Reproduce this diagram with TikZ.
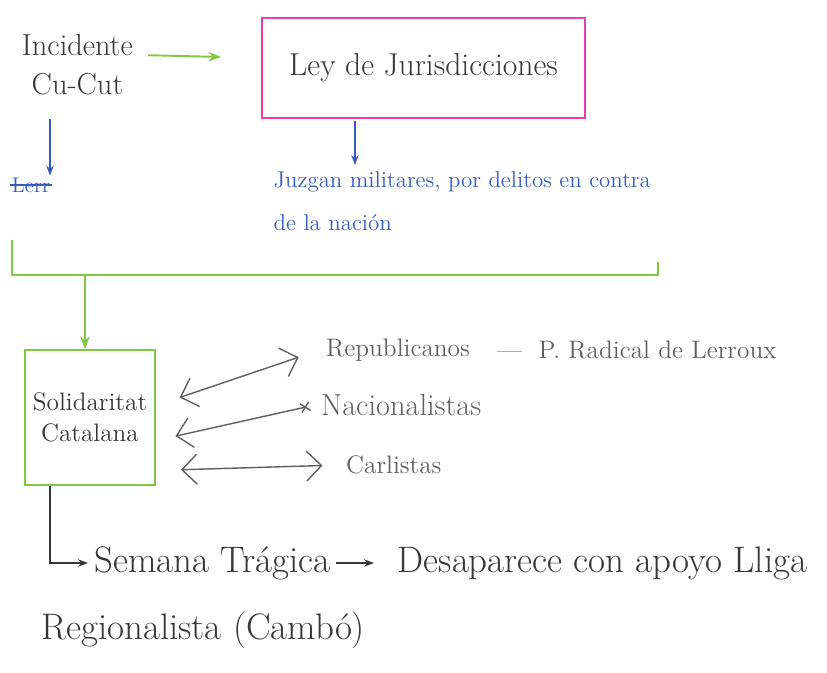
\documentclass[tikz,border=0pt]{standalone}
\usepackage{tikz}
\usetikzlibrary{arrows.meta, positioning}
\definecolor{hgreen}{RGB}{128,200,64}
\definecolor{hpink}{RGB}{228,64,180}
\definecolor{hblue}{RGB}{52,92,190}
\definecolor{hgray}{RGB}{95,95,95}
\definecolor{hink}{RGB}{55,55,55}

\begin{document}
\begin{tikzpicture}[
  node distance=0.5cm and 0.8cm,
  pinkbox/.style={rectangle, draw=hpink, line width=1.1pt, minimum width=6.46cm, minimum height=2cm, font=\fontsize{18}{22}\selectfont, text=hink},
  greenbox/.style={rectangle, draw=hgreen, line width=1.1pt, minimum width=2.6cm, minimum height=2.7cm, align=center, font=\Large, text=hink},
  inktext/.style={text=hink, font=\LARGE},
  graytext/.style={text=hgray, font=\Large},
  bluetext/.style={text=hblue, font=\fontsize{13}{25}\selectfont, align=left},
  bigtext/.style={text=hink, font=\fontsize{21}{25}\selectfont},
  greenarrow/.style={-{Stealth[length=2.5mm]}, hgreen, line width=1.1pt},
  bluearrow/.style={-{Stealth[length=2mm]}, hblue, thick},
  grayarrow/.style={hgray, thick},
  barb/.style={{Straight Barb[length=3mm]}-{Straight Barb[length=3mm]}},
  inkarrow/.style={-{Stealth[length=2mm]}, hink, thick}
]
  \useasboundingbox (0,0) rectangle (16.54,13.46);

  % top row
  \node[inktext, align=center] (inc) at (1.55,12.16) {Incidente\\Cu-Cut};
  \node[pinkbox] (ley) at (8.47,12.1) {Ley de Jurisdicciones};
  \draw[greenarrow, shorten <=0.18cm, shorten >=0.8cm] ([yshift=0.2cm]inc.east) -- ([yshift=0.2cm]ley.west);

  \node[bluetext, anchor=north west] (jur) at (5.35,10.16) {Juzgan militares, por delitos en contra\\ de la nación};
  \coordinate (leyfoot) at ([xshift=-1.37cm]ley.south);
  \draw[bluearrow, shorten <=0.05cm] (leyfoot) -- (leyfoot |- jur.north);

  \node[text=hblue, font=\large, inner sep=1pt] (tachado) at (0.62,9.76) {Lerr};
  \draw[hblue, thick] (tachado.west) -- (tachado.east);
  \coordinate (incfoot) at ([xshift=-0.55cm]inc.south);
  \draw[bluearrow, shorten <=0.35cm] (incfoot) -- (incfoot |- tachado.north);

  % bracket
  \coordinate (brl) at (0.24,8.66);
  \coordinate (brb) at (1.7,7.96);
  \coordinate (brr) at (13.16,8.22);
  \draw[hgreen, line width=1.1pt] (brl) |- (brb) -| (brr);

  \node[greenbox] (sol) at (1.8,5.11) {Solidaritat\\Catalana};
  \draw[greenarrow] (brb) -- (brb |- sol.north);

  % parties
  \node[graytext, anchor=west] (rep) at (6.4,6.46) {Republicanos};
  \node[graytext, right=0.3cm of rep] (ler) {--- \ P. Radical de Lerroux};
  \node[graytext, font=\LARGE, anchor=west] (nac) at (6.3,5.36) {Nacionalistas};
  \node[graytext, anchor=west] (car) at (6.8,4.16) {Carlistas};
  \draw[grayarrow, barb, shorten <=0.5cm, shorten >=0.45cm] ([yshift=0.24cm]sol.east) -- (rep.west);
  \draw[grayarrow, {Straight Barb[length=3mm]}-{Rays[n=4, length=2.5mm]}, shorten <=0.4cm, shorten >=0.1cm] ([yshift=-0.46cm]sol.east) -- (nac.west);
  \draw[grayarrow, barb, shorten <=0.5cm, shorten >=0.35cm] ([yshift=-1.06cm]sol.east) -- (car.west);

  % bottom
  \node[bigtext, anchor=west] (sem) at (1.76,2.2) {Semana Trágica};
  \node[bigtext, right=1.1cm of sem] (des) {Desaparece con apoyo Lliga};
  \node[bigtext, anchor=west] (reg) at (0.7,0.86) {Regionalista (Cambó)};
  \draw[inkarrow] ([xshift=-0.8cm]sol.south) |- (sem.west);
  \draw[inkarrow, shorten >=0.35cm] (sem) -- (des);
\end{tikzpicture}
\end{document}
